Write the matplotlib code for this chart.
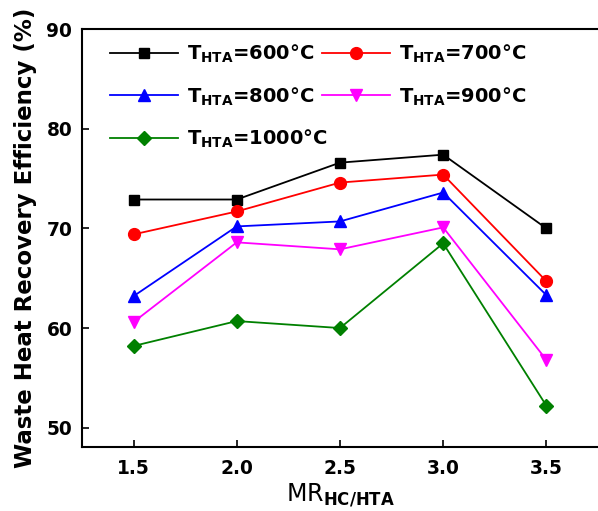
import matplotlib
matplotlib.use("Agg")
import matplotlib.pyplot as plt

plt.rcParams['font.family'] = ['DejaVu Sans']
plt.rcParams['mathtext.fontset'] = 'dejavusans'

# mass ratio HC/HTA
mr = [1.5, 2.0, 2.5, 3.0, 3.5]

# waste heat recovery efficiency (%) for each HTA temperature
t600 = [72.9, 72.9, 76.6, 77.4, 70.0]
t700 = [69.4, 71.7, 74.6, 75.4, 64.7]
t800 = [63.2, 70.2, 70.7, 73.6, 63.3]
t900 = [60.6, 68.6, 67.9, 70.1, 56.8]
t1000 = [58.2, 60.7, 60.0, 68.5, 52.2]

temps = ['600', '700', '800', '900', '1000']
series = [t600, t700, t800, t900, t1000]
colors = ['black', 'red', 'blue', 'magenta', 'green']
markers = ['s', 'o', '^', 'v', 'D']
msizes = [7.5, 8.5, 9, 9, 7]

fig = plt.figure(figsize=(5.98, 5.11), dpi=100)
ax = fig.add_axes([0.137, 0.126, 0.863, 0.817])

lines = []
for t, y, c, m, ms in zip(temps, series, colors, markers, msizes):
    ln, = ax.plot(mr, y, color=c, marker=m, markersize=ms, linewidth=1.3,
                  label=r'T$_{\bf HTA}$=' + t + '°C')
    lines.append(ln)

ax.set_xlim(1.25, 3.75)
ax.set_ylim(48.1, 90)
ax.set_xticks(mr)
ax.set_yticks([50, 60, 70, 80, 90])
ax.set_xticklabels(['%.1f' % v for v in mr])
ax.tick_params(direction='in', length=5, width=1.2, labelsize=13.4)
ax.tick_params(axis='x', pad=9)
ax.tick_params(axis='y', pad=7)
for lab in ax.get_xticklabels() + ax.get_yticklabels():
    lab.set_fontweight('bold')

for s in ['left', 'bottom', 'top']:
    ax.spines[s].set_linewidth(1.5)
ax.spines['right'].set_visible(False)

ax.set_ylabel('Waste Heat Recovery Efficiency (%)', fontsize=16.5,
              fontweight='bold', labelpad=7)
ax.set_xlabel(r'MR$_{\bf HC/HTA}$', fontsize=17, labelpad=3)

# legend: left column 600/800/1000, right column 700/900
kw = dict(loc='upper left', frameon=False, fontsize=14, handlelength=3.5,
          handletextpad=0.45, labelspacing=1.05, borderaxespad=0,
          borderpad=0)
leg1 = ax.legend([lines[0], lines[2], lines[4]],
                 [lines[0].get_label(), lines[2].get_label(), lines[4].get_label()],
                 bbox_to_anchor=(0.054, 0.968), **kw)
for txt in leg1.get_texts():
    txt.set_fontweight('bold')
ax.add_artist(leg1)
leg2 = ax.legend([lines[1], lines[3]],
                 [lines[1].get_label(), lines[3].get_label()],
                 bbox_to_anchor=(0.465, 0.968), **kw)
for txt in leg2.get_texts():
    txt.set_fontweight('bold')

fig.savefig('out.png', dpi=100)
